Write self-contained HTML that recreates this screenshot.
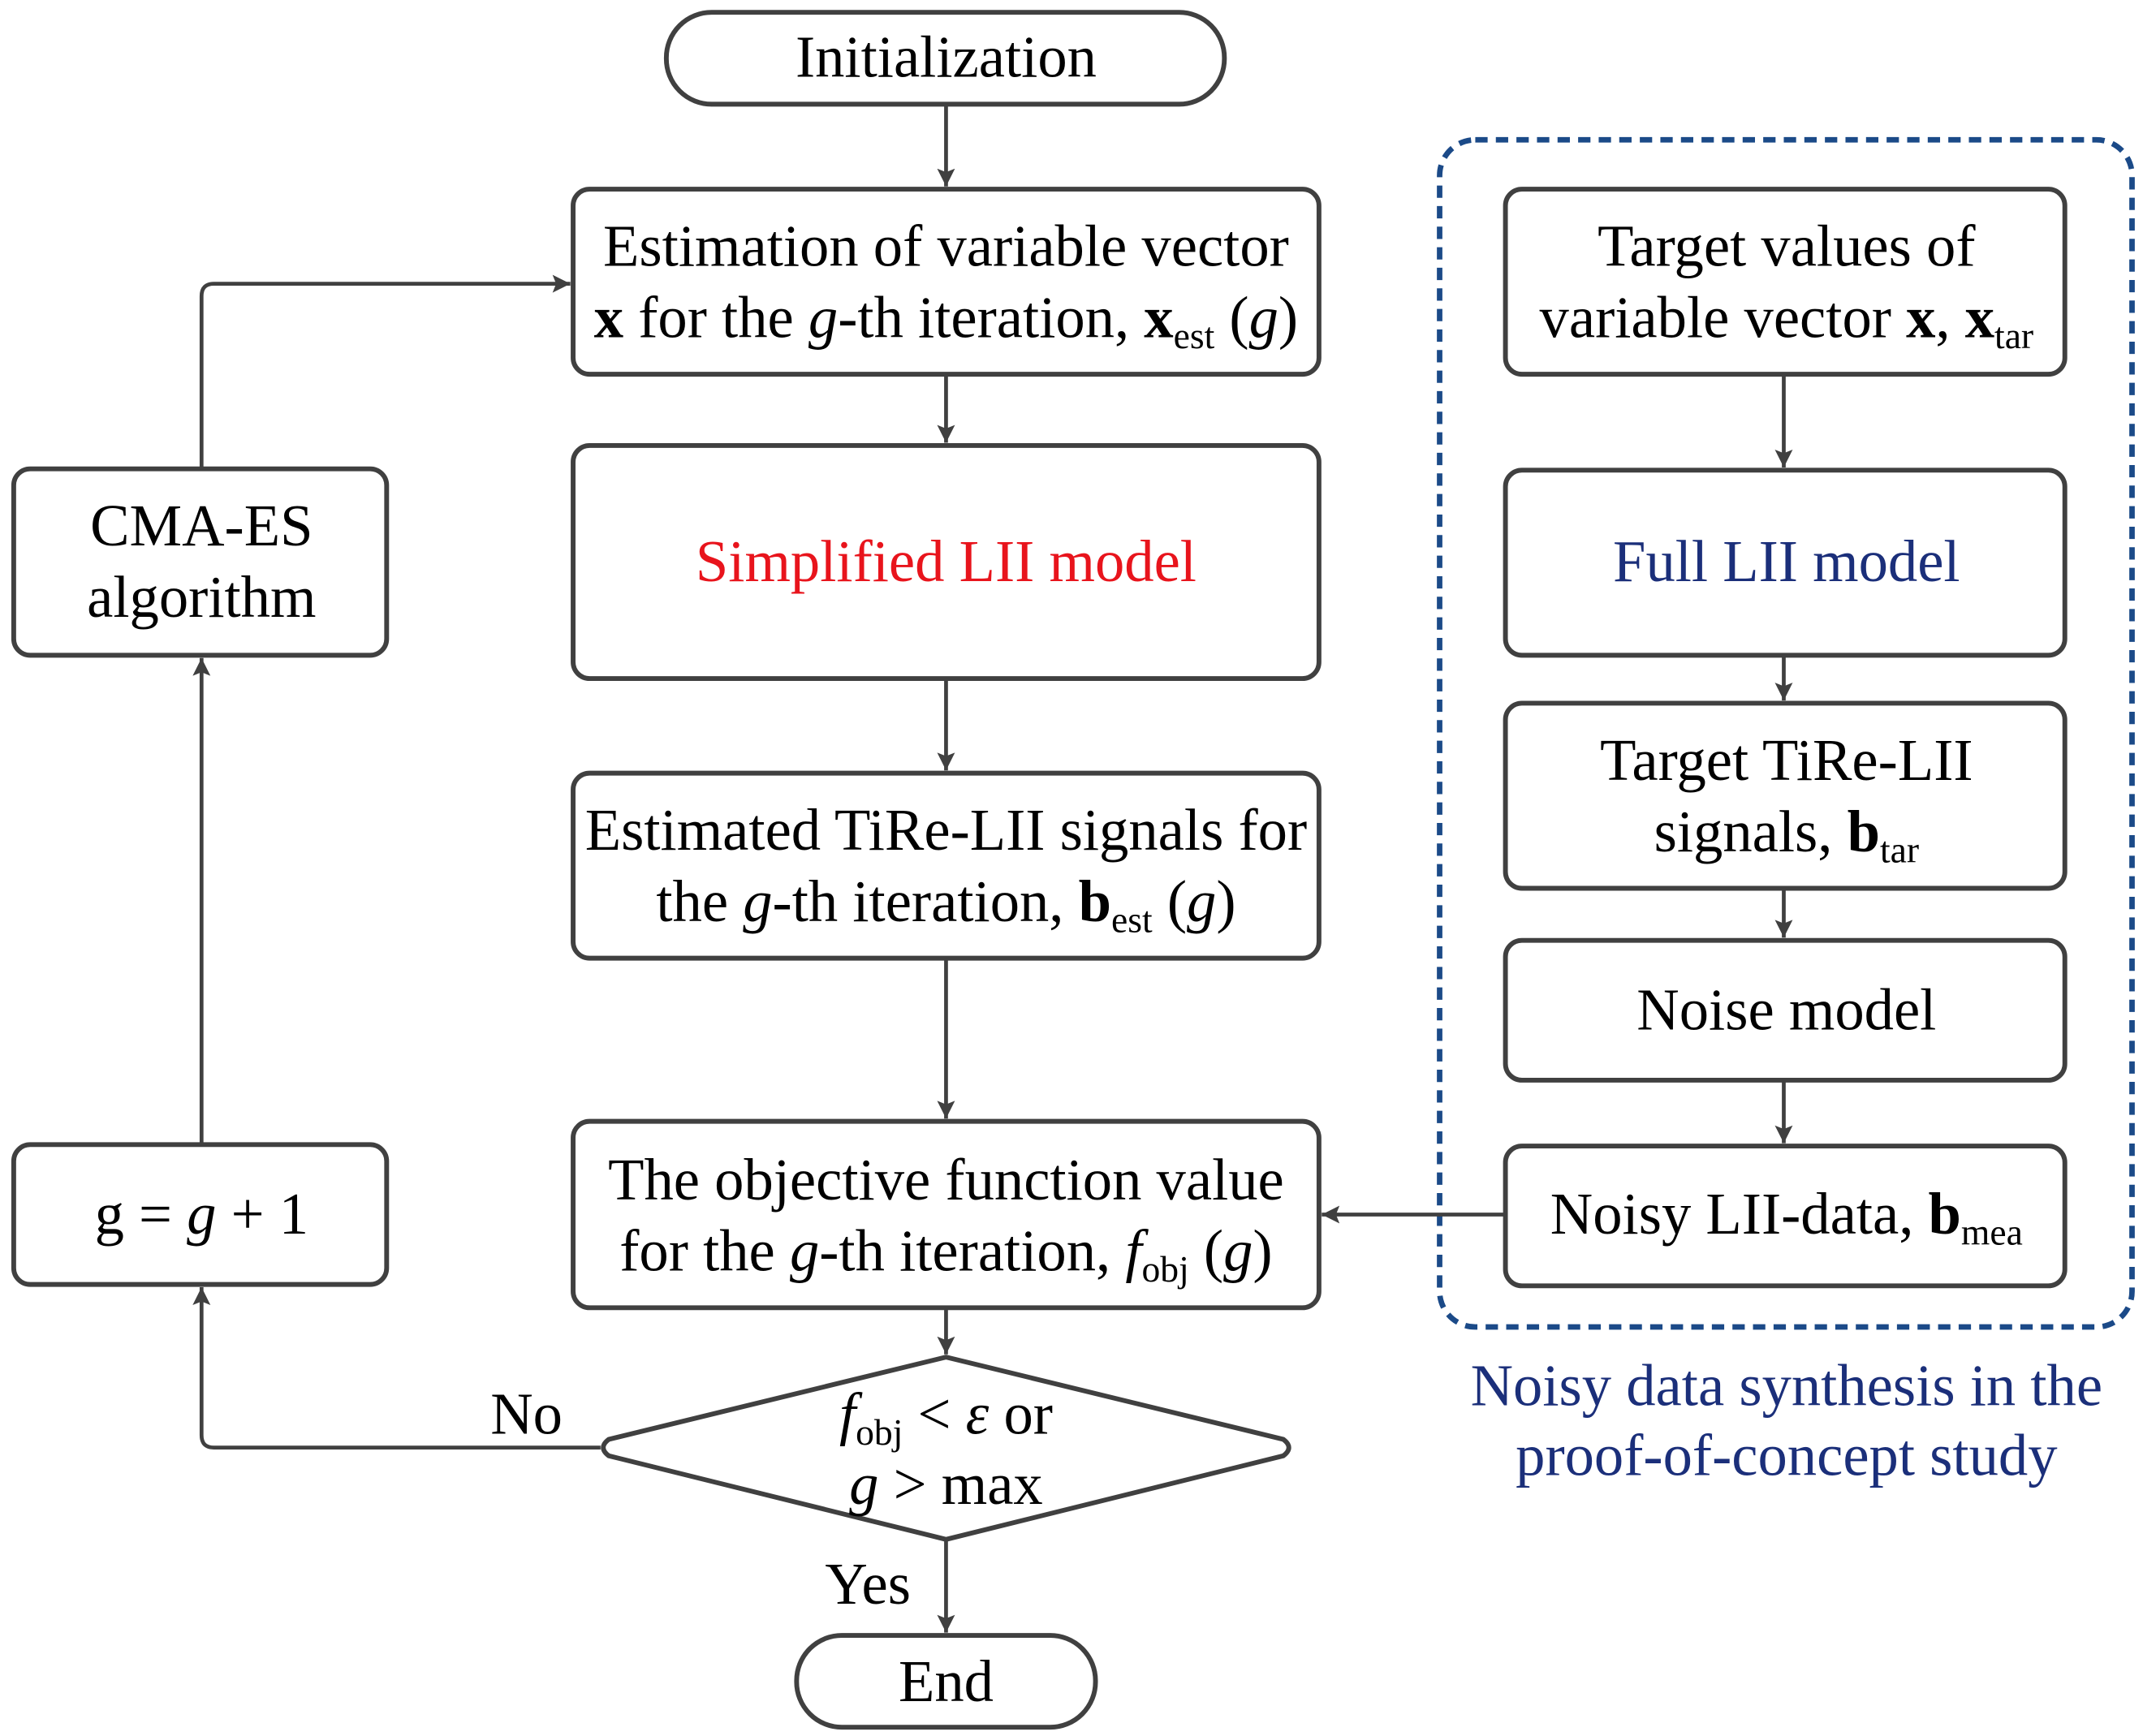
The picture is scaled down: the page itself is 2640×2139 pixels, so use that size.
<!DOCTYPE html>
<html><head><meta charset="utf-8"><style>
html,body{margin:0;padding:0;background:#fff;}
svg{display:block;}
text{font-family:"Liberation Serif",serif;fill:#000;}
</style></head><body>
<svg width="2640" height="2139" viewBox="0 0 1563 1266.4" preserveAspectRatio="none" xmlns="http://www.w3.org/2000/svg">
<defs>
<marker id="a" viewBox="0 0 10 10" refX="10" refY="5" markerWidth="13" markerHeight="14" markerUnits="userSpaceOnUse" orient="auto"><path d="M0,0 L10,5 L0,10 L2,5 z" fill="#404040"/></marker>
</defs>
<g stroke="#404040" stroke-width="3.5" fill="none">
<rect x="486" y="9" width="407" height="67" rx="33"/>
<rect x="418" y="138" width="544" height="135" rx="12"/>
<rect x="418" y="325" width="544" height="170" rx="12"/>
<rect x="418" y="564" width="544" height="135" rx="12"/>
<rect x="418" y="818" width="544" height="136" rx="12"/>
<path d="M444,1050 L690,990 L936,1050 Q944,1056 936,1062 L690,1123 L444,1062 Q436,1056 444,1050 Z"/>
<rect x="581" y="1193" width="218" height="67" rx="33"/>
<rect x="10" y="342" width="272" height="136" rx="12"/>
<rect x="10" y="835" width="272" height="102" rx="12"/>
<rect x="1098" y="138" width="408" height="135" rx="12"/>
<rect x="1098" y="343" width="408" height="135" rx="12"/>
<rect x="1098" y="513" width="408" height="135" rx="12"/>
<rect x="1098" y="686" width="408" height="102" rx="12"/>
<rect x="1098" y="836" width="408" height="102" rx="12"/>
</g>
<rect x="1050" y="102" width="505" height="866" rx="26" fill="none" stroke="#1b4a88" stroke-width="4" stroke-dasharray="9,6"/>
<g stroke="#404040" stroke-width="2.8" fill="none" marker-end="url(#a)">
<path d="M690,76 V136"/>
<path d="M690,273 V323"/>
<path d="M690,495 V562"/>
<path d="M690,699 V816"/>
<path d="M690,954 V988"/>
<path d="M690,1123 V1191"/>
<path d="M438,1056 H156 Q147,1056 147,1047 V939"/>
<path d="M147,835 V480"/>
<path d="M147,342 V216 Q147,207 156,207 H416"/>
<path d="M1301,273 V341"/>
<path d="M1301,478 V511"/>
<path d="M1301,648 V684"/>
<path d="M1301,788 V834"/>
<path d="M1098,886 H964"/>
</g>
<g font-size="43" text-anchor="middle">
<text x="690" y="56">Initialization</text>
<text x="690" y="194">Estimation of variable vector</text>
<text x="690" y="246"><tspan font-weight="bold">x</tspan> for the <tspan font-style="italic">g</tspan>-th iteration, <tspan font-weight="bold">x</tspan><tspan font-size="27" dy="8">est</tspan><tspan dy="-8"> (</tspan><tspan font-style="italic">g</tspan>)</text>
<text x="690" y="424" style="fill:#e8141c">Simplified LII model</text>
<text x="690" y="620">Estimated TiRe-LII signals for</text>
<text x="690" y="672">the <tspan font-style="italic">g</tspan>-th iteration, <tspan font-weight="bold">b</tspan><tspan font-size="27" dy="8">est</tspan><tspan dy="-8"> (</tspan><tspan font-style="italic">g</tspan>)</text>
<text x="690" y="875">The objective function value</text>
<text x="690" y="927">for the <tspan font-style="italic">g</tspan>-th iteration, <tspan font-style="italic">f</tspan><tspan font-size="27" dy="8">obj</tspan><tspan dy="-8"> (</tspan><tspan font-style="italic">g</tspan>)</text>
<text x="690" y="1046"><tspan font-style="italic">f</tspan><tspan font-size="27" dy="8">obj</tspan><tspan dy="-8"> &lt; </tspan><tspan font-style="italic">ε</tspan> or</text>
<text x="690" y="1097"><tspan font-style="italic">g</tspan> &gt; max</text>
<text x="690" y="1241">End</text>
<text x="384" y="1046">No</text>
<text x="633" y="1170">Yes</text>
<text x="147" y="398">CMA-ES</text>
<text x="147" y="450">algorithm</text>
<text x="147" y="900">g = <tspan font-style="italic">g</tspan> + 1</text>
<text x="1303" y="194">Target values of</text>
<text x="1303" y="246">variable vector <tspan font-weight="bold">x</tspan>, <tspan font-weight="bold">x</tspan><tspan font-size="27" dy="8">tar</tspan></text>
<text x="1303" y="424" style="fill:#1b2f7a">Full LII model</text>
<text x="1303" y="569">Target TiRe-LII</text>
<text x="1303" y="621">signals, <tspan font-weight="bold">b</tspan><tspan font-size="27" dy="8">tar</tspan></text>
<text x="1303" y="751">Noise model</text>
<text x="1303" y="900">Noisy LII-data, <tspan font-weight="bold">b</tspan><tspan font-size="27" dy="8">mea</tspan></text>
<text x="1303" y="1025" style="fill:#1b2f7a">Noisy data synthesis in the</text>
<text x="1303" y="1076" style="fill:#1b2f7a">proof-of-concept study</text>
</g>
</svg>
</body></html>
